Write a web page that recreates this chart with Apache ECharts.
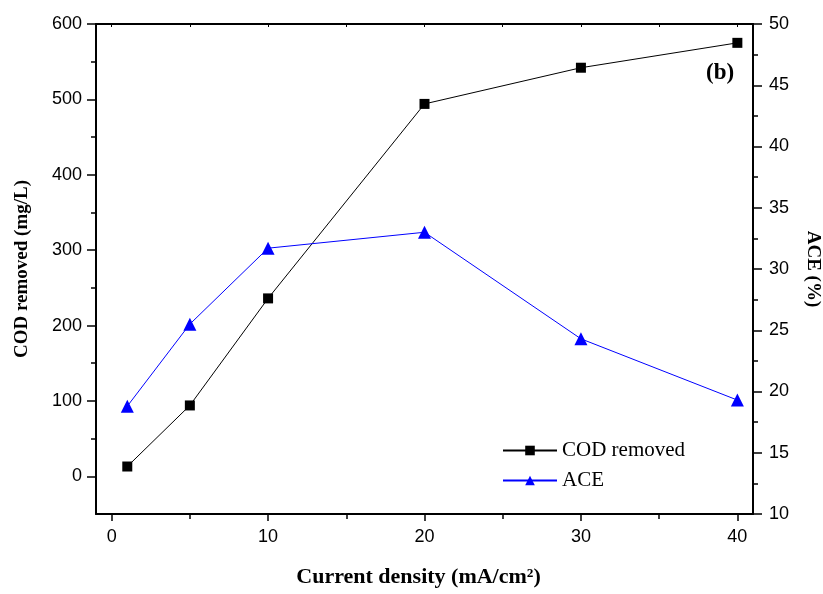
<!DOCTYPE html>
<html>
<head>
<meta charset="utf-8">
<script src="https://cdn.jsdelivr.net/npm/echarts@6/dist/echarts.min.js"></script>
<style>
  html, body { margin: 0; padding: 0; background: #fff; }
  #main { width: 823px; height: 594px; }
</style>
</head>
<body>
<div id="main"></div>
<script>
// current density (mA/cm2)
const density = [1, 5, 10, 20, 30, 40];
// COD removed (mg/L)
const codRemoved = [13, 94, 236, 494, 542, 575];
// ACE (%)
const ace = [18.8, 25.5, 31.7, 33.0, 24.3, 19.3];
// tick labels
const xTicks = [0, 10, 20, 30, 40];
const xMinor = [5, 15, 25, 35];
const codTicks = [0, 100, 200, 300, 400, 500, 600];
const codMinor = [50, 150, 250, 350, 450, 550];

const chart = echarts.init(document.getElementById('main'));

const labelFont = { fontFamily: 'Liberation Sans', fontSize: 18, color: '#000' };
const nameFont = { fontFamily: 'Liberation Serif', fontSize: 19, fontWeight: 'bold', color: '#000' };
const black = { color: '#000', width: 1.5 };

const option = {
  animation: false,
  grid: { left: 96, right: 70, top: 24, bottom: 80, outerBoundsMode: 'none' },
  legend: {
    left: 497,
    top: 435,
    orient: 'vertical',
    itemWidth: 54,
    itemHeight: 12,
    itemGap: 9,
    textStyle: { fontFamily: 'Liberation Serif', fontSize: 21, color: '#000' },
    data: ['COD removed', 'ACE']
  },
  graphic: [{
    type: 'text',
    left: 706,
    top: 62,
    style: { text: '(b)', fontFamily: 'Liberation Serif', fontSize: 23, fontWeight: 'bold', fill: '#000' }
  }],
  xAxis: [{
    type: 'value',
    min: -1,
    max: 41,
    position: 'bottom',
    name: 'Current density (mA/cm²)',
    nameLocation: 'middle',
    nameGap: 52,
    nameTextStyle: Object.assign({}, nameFont, { fontSize: 22, padding: [0, 12, 0, 0] }),
    axisLine: { onZero: false, lineStyle: { color: '#000', width: 2 } },
    axisTick: { show: true, length: 7, lineStyle: black, customValues: xTicks },
    axisLabel: Object.assign({ margin: 14, customValues: xTicks }, labelFont),
    splitLine: { show: false }
  }, {
    type: 'value',
    min: -1,
    max: 41,
    position: 'bottom',
    axisLine: { show: false, onZero: false },
    axisTick: { show: true, length: 5, lineStyle: black, customValues: xMinor },
    axisLabel: { show: false },
    splitLine: { show: false }
  }, {
    type: 'value',
    min: -1,
    max: 41,
    position: 'top',
    axisLine: { onZero: false, lineStyle: { color: '#000', width: 2 } },
    axisTick: { show: true, inside: true, length: 3, lineStyle: { color: '#000' }, customValues: xTicks.concat(xMinor) },
    axisLabel: { show: false },
    splitLine: { show: false }
  }],
  yAxis: [{
    type: 'value',
    min: -50,
    max: 600,
    position: 'left',
    name: 'COD removed (mg/L)',
    nameLocation: 'middle',
    nameGap: 64,
    nameTextStyle: nameFont,
    axisLine: { show: true, onZero: false, lineStyle: { color: '#000', width: 2 } },
    axisTick: { show: true, length: 9, lineStyle: black, customValues: codTicks },
    axisLabel: Object.assign({ margin: 14, customValues: codTicks }, labelFont),
    splitLine: { show: false }
  }, {
    type: 'value',
    min: 10,
    max: 50,
    interval: 5,
    position: 'right',
    name: 'ACE (%)',
    nameLocation: 'middle',
    nameGap: 50,
    nameRotate: -90,
    nameTextStyle: nameFont,
    axisLine: { show: true, onZero: false, lineStyle: { color: '#000', width: 2 } },
    axisTick: { show: true, length: 9, lineStyle: black },
    minorTick: { show: true, splitNumber: 2, length: 5, lineStyle: black },
    axisLabel: Object.assign({ margin: 16 }, labelFont),
    splitLine: { show: false }
  }, {
    type: 'value',
    min: -50,
    max: 600,
    position: 'left',
    axisLine: { show: false, onZero: false },
    axisTick: { show: true, length: 5, lineStyle: black, customValues: codMinor },
    axisLabel: { show: false },
    splitLine: { show: false }
  }],
  series: [{
    name: 'COD removed',
    type: 'line',
    xAxisIndex: 0,
    yAxisIndex: 0,
    data: density.map((d, i) => [d, codRemoved[i]]),
    symbol: 'rect',
    symbolSize: 10,
    itemStyle: { color: '#000' },
    lineStyle: { color: '#000', width: 1 }
  }, {
    name: 'ACE',
    type: 'line',
    xAxisIndex: 0,
    yAxisIndex: 1,
    data: density.map((d, i) => [d, ace[i]]),
    symbol: 'triangle',
    symbolSize: 13,
    itemStyle: { color: '#0000ff' },
    lineStyle: { color: '#0000ff', width: 1 }
  }]
};

chart.setOption(option);
</script>
</body>
</html>
